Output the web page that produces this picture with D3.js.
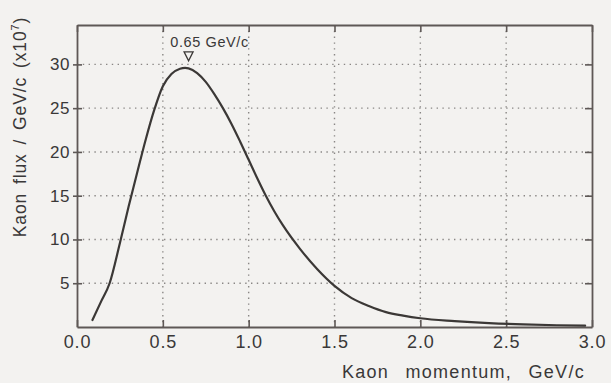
<!DOCTYPE html>
<html>
<head>
<meta charset="utf-8">
<script src="https://cdn.jsdelivr.net/npm/d3@7"></script>
<style>
  html, body { margin: 0; padding: 0; background: #f3f2f0; }
  svg { display: block; }
  text { font-family: "Liberation Sans", Arial, sans-serif; fill: #3a3838; }
</style>
</head>
<body>
<svg id="chart" width="611" height="383"></svg>
<script>
// Kaon momentum spectrum (GeV/c) and flux per GeV/c in units of 10^7
const momentum = [0.09, 0.14, 0.19, 0.25, 0.30, 0.35, 0.40, 0.45, 0.50, 0.55, 0.60, 0.63, 0.65, 0.70,
                  0.75, 0.80, 0.85, 0.90, 0.95, 1.00, 1.05, 1.10, 1.15, 1.20, 1.30, 1.40, 1.50, 1.60,
                  1.70, 1.80, 1.90, 2.00, 2.20, 2.40, 2.60, 2.80, 2.96];
const flux = [0.8, 2.9, 5.0, 9.6, 13.7, 17.6, 21.4, 24.8, 27.5, 28.9, 29.5, 29.6, 29.55, 29.0,
              28.0, 26.6, 25.0, 23.2, 21.2, 19.1, 17.0, 15.0, 13.2, 11.6, 8.9, 6.6, 4.7, 3.3,
              2.4, 1.7, 1.3, 1.0, 0.68, 0.45, 0.3, 0.2, 0.15];
const xTicks = [0, 0.5, 1.0, 1.5, 2.0, 2.5, 3.0];
const yTicks = [5, 10, 15, 20, 25, 30];
const peakMomentum = 0.65;
const peakLabel = "0.65 GeV/c";

const svg = d3.select("#chart");
const plotLeft = 77, plotRight = 592, plotTop = 25, plotBottom = 327;

const x = d3.scaleLinear().domain([0, 3]).range([plotLeft, plotRight]);
const y = d3.scaleLinear().domain([0, 34.5]).range([plotBottom, plotTop]);

// dotted grid
const grid = svg.append("g").attr("stroke", "#8a8785").attr("stroke-width", 1.4)
  .attr("stroke-dasharray", "1.4,4.4");
grid.selectAll("line.gx").data(xTicks.slice(1, -1)).join("line")
  .attr("x1", d => x(d)).attr("x2", d => x(d)).attr("y1", plotTop).attr("y2", plotBottom);
grid.selectAll("line.gy").data(yTicks).join("line")
  .attr("x1", plotLeft).attr("x2", plotRight).attr("y1", d => y(d)).attr("y2", d => y(d));

// axes: labelled bottom/left, mirrored inward ticks on top/right
const axisColor = "#5e5856";
const bottomAxis = svg.append("g").attr("transform", `translate(0,${plotBottom})`)
  .call(d3.axisBottom(x).tickValues(xTicks).tickFormat(d3.format(".1f")).tickSizeInner(-7).tickSizeOuter(0).tickPadding(8));
const leftAxis = svg.append("g").attr("transform", `translate(${plotLeft},0)`)
  .call(d3.axisLeft(y).tickValues(yTicks).tickSizeInner(4).tickSizeOuter(0).tickPadding(3));
const topAxis = svg.append("g").attr("transform", `translate(0,${plotTop})`)
  .call(d3.axisTop(x).tickValues(xTicks).tickFormat("").tickSizeInner(-7).tickSizeOuter(0));
const rightAxis = svg.append("g").attr("transform", `translate(${plotRight},0)`)
  .call(d3.axisRight(y).tickValues(yTicks).tickFormat("").tickSizeInner(-7).tickSizeOuter(0));

[bottomAxis, leftAxis, topAxis, rightAxis].forEach(g => {
  g.select(".domain").attr("stroke", axisColor).attr("stroke-width", 1.8);
  g.selectAll(".tick line").attr("stroke", axisColor).attr("stroke-width", 1.6);
  g.selectAll(".tick text").attr("fill", "#3a3838").attr("font-size", 18)
    .attr("letter-spacing", 0.8)
    .attr("font-family", "Liberation Sans, Arial, sans-serif");
});
leftAxis.selectAll(".tick text").attr("font-size", 17).attr("letter-spacing", 0.5);
// left tick marks extend slightly into the plot as well
leftAxis.selectAll(".tick line").attr("x1", 5);

// flux curve
const line = d3.line().x((d, i) => x(momentum[i])).y(d => y(d)).curve(d3.curveMonotoneX);
svg.append("path").datum(flux).attr("d", line)
  .attr("fill", "none").attr("stroke", "#3b3836").attr("stroke-width", 2.2)
  .attr("stroke-linejoin", "round").attr("stroke-linecap", "round");

// peak marker and label
const px = x(peakMomentum);
const py = y(d3.max(flux)) - 7;
svg.append("path")
  .attr("d", `M${px - 4.5},${py - 9} L${px + 4.5},${py - 9} L${px},${py} Z`)
  .attr("fill", "none").attr("stroke", "#3b3836").attr("stroke-width", 1.3);
svg.append("text").attr("x", px + 21).attr("y", py - 14)
  .attr("text-anchor", "middle").attr("font-size", 14.5).attr("letter-spacing", 0.6).text(peakLabel);

// axis titles
svg.append("text").attr("x", 585).attr("y", 378).attr("text-anchor", "end")
  .attr("font-size", 18).attr("letter-spacing", 1.3).attr("word-spacing", 10).text("Kaon momentum, GeV/c");
const yt = svg.append("text").attr("transform", "translate(26,127) rotate(-90)")
  .attr("text-anchor", "middle").attr("font-size", 17.5).attr("letter-spacing", 0.9).attr("word-spacing", 3);
yt.append("tspan").text("Kaon  flux / GeV/c (x10");
yt.append("tspan").attr("dy", -7).attr("font-size", 11).text("7");
yt.append("tspan").attr("dy", 7).text(")");
</script>
</body>
</html>
